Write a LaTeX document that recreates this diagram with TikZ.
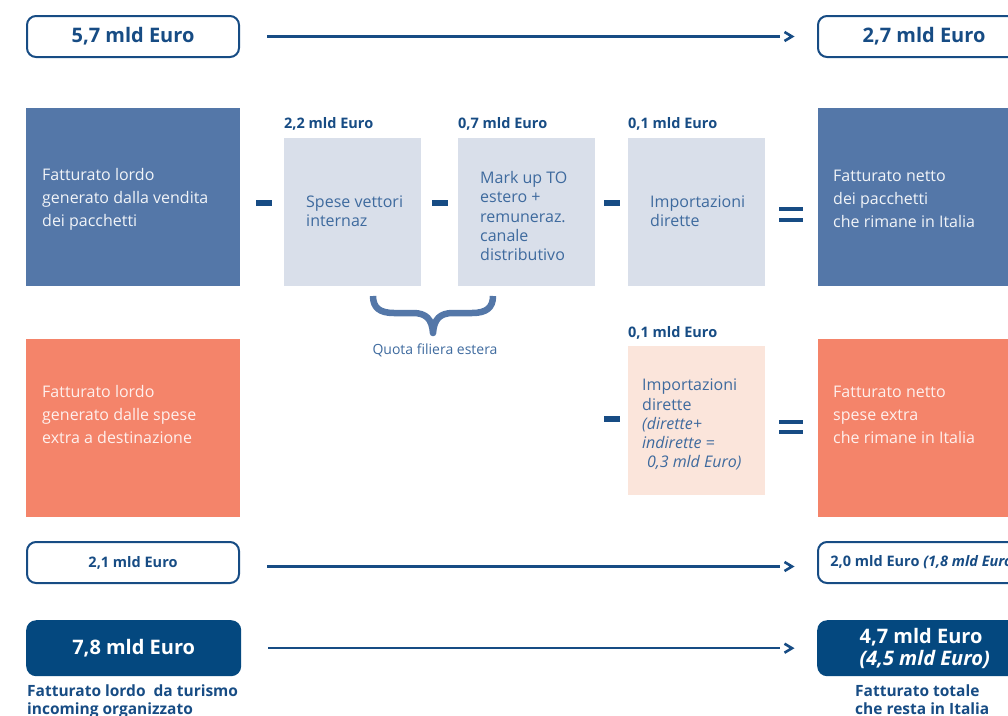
\documentclass[tikz,border=0pt]{standalone}
\usepackage{fontspec}
\setmainfont{Open Sans}
\usepackage{tikz}
\usetikzlibrary{arrows.meta}

\definecolor{blu}{HTML}{174C84}
\definecolor{bluscuro}{HTML}{04487F}
\definecolor{bluette}{HTML}{5477A8}
\definecolor{azzurro}{HTML}{D9DFEA}
\definecolor{testoaz}{HTML}{3E6A9E}
\definecolor{arancio}{HTML}{F4846A}
\definecolor{pesca}{HTML}{FBE5DB}

\begin{document}
\begin{tikzpicture}[x=1pt, y=-1pt,
    cifra/.style={draw=blu, line width=2pt, rounded corners=9pt, minimum width=212pt, minimum height=41pt, inner sep=0pt, text=blu, font=\bfseries\fontsize{20}{24}\selectfont},
    cifrapiena/.style={fill=bluscuro, rounded corners=10pt, minimum width=215pt, minimum height=56pt, inner sep=0pt, text=white, align=left, font=\bfseries\fontsize{20}{22}\selectfont},
    riquadro/.style={inner sep=0pt, minimum width=214pt, minimum height=178pt},
    voce/.style={fill=azzurro, inner sep=0pt, minimum width=137pt, minimum height=148pt},
    testo/.style={inner sep=0pt, align=left, font=\fontsize{16}{23}\selectfont},
    testovoce/.style={inner sep=0pt, align=left, text=testoaz, font=\fontsize{16}{19.3}\selectfont},
    importo/.style={inner sep=0pt, anchor=base west, text=blu, font=\bfseries\fontsize{14.5}{17}\selectfont},
    didascalia/.style={inner sep=0pt, anchor=north west, align=left, text=blu, font=\bfseries\fontsize{15.5}{18}\selectfont},
    nota/.style={inner sep=0pt, text=testoaz, font=\fontsize{14}{17}\selectfont},
    meno/.style={blu, line width=5.5pt},
    uguale/.style={blu, line width=3.6pt},
    graffa/.style={bluette, line width=6.5pt, line join=round},
    freccia/.style={blu, line width=2.3pt, shorten <=27pt, shorten >=37pt},
    punta/.style={blu, line width=2.6pt, miter limit=4}
]

    \useasboundingbox (0,0) rectangle (1008,715);
    \clip (0,0) rectangle (1008,715);

    % importi in alto
    \node[cifra, anchor=north west] (lordo) at (26,15) {5,7 mld Euro};
    \node[cifra, anchor=north west] (netto) at (817,15) {2,7 mld Euro};
    \draw[freccia] (lordo) -- (netto);
    \draw[punta] ([xshift=-32.5pt, yshift=4.5pt]netto.west) -- ([xshift=-25pt]netto.west) -- ([xshift=-32.5pt, yshift=-4.5pt]netto.west);

    % pacchetti
    \node[riquadro, fill=bluette, anchor=north west] (lordopac) at (26,108) {};
    \node[testo, text=white!92!bluette, anchor=west] (tlordopac) at ([xshift=16pt, yshift=-2pt]lordopac.west) {Fatturato lordo\\generato dalla vendita\\dei pacchetti};

    \node[voce, anchor=north west] (vettori) at (284,138) {};
    \node[testovoce, anchor=west] (tvettori) at ([xshift=22pt, yshift=1pt]vettori.west) {Spese vettori\\internaz};
    \node[importo] (ivettori) at ([yshift=10pt]vettori.north west) {2,2 mld Euro};

    \node[voce, anchor=north west] (markup) at (458,138) {};
    \node[testovoce, anchor=west] (tmarkup) at ([xshift=22pt, yshift=-4pt]markup.west) {Mark up TO\\estero +\\remuneraz.\\canale\\distributivo};
    \node[importo] (imarkup) at ([yshift=10pt]markup.north west) {0,7 mld Euro};

    \node[voce, anchor=north west] (imppac) at (628,138) {};
    \node[testovoce, anchor=west] (timppac) at ([xshift=22pt, yshift=1pt]imppac.west) {Importazioni\\dirette};
    \node[importo] (iimppac) at ([yshift=10pt]imppac.north west) {0,1 mld Euro};

    \node[riquadro, fill=bluette, anchor=north west] (nettopac) at (818,108) {};
    \node[testo, text=white!92!bluette, anchor=west] (tnettopac) at ([xshift=15pt, yshift=-2pt]nettopac.west) {Fatturato netto\\dei pacchetti\\che rimane in Italia};

    \draw[meno] (256,203) -- (272,203);
    \draw[meno] (432,203) -- (448,203);
    \draw[meno] (604,203) -- (620,203);
    \draw[uguale] (779,209) -- (803,209);
    \draw[uguale] (779,220) -- (803,220);

    % graffa sotto la filiera estera
    \draw[graffa] (373,296) .. controls (373,308) and (380,313) .. (394,313) -- (413,313)
        .. controls (426,313) and (432,319) .. (433,333)
        .. controls (434,319) and (440,313) .. (453,313) -- (472,313)
        .. controls (486,313) and (493,308) .. (493,296);
    \node[nota] (quota) at (435,350) {Quota filiera estera};

    % spese extra
    \node[riquadro, fill=arancio, anchor=north west] (lordoext) at (26,339) {};
    \node[testo, text=white!88!arancio, anchor=west] (tlordoext) at ([xshift=16pt, yshift=14pt]lordoext.west) {Fatturato lordo\\generato dalle spese\\extra a destinazione};

    \node[voce, fill=pesca, minimum height=149pt, anchor=north west] (impext) at (628,346) {};
    \node[testovoce, anchor=west] (timpext) at ([xshift=14pt, yshift=-4pt]impext.west) {Importazioni\\dirette\\\textit{(dirette+}\\\textit{indirette =}\\\textit{\hspace{0.3em}0,3 mld Euro)}};
    \node[importo] (iimpext) at ([yshift=9pt]impext.north west) {0,1 mld Euro};

    \node[riquadro, fill=arancio, anchor=north west] (nettoext) at (818,339) {};
    \node[testo, text=white!88!arancio, anchor=west] (tnettoext) at ([xshift=15pt, yshift=13pt]nettoext.west) {Fatturato netto\\spese extra\\che rimane in Italia};

    \draw[meno] (604,419) -- (620,419);
    \draw[uguale] (779,422) -- (803,422);
    \draw[uguale] (779,432) -- (803,432);

    \node[cifra, font=\bfseries\fontsize{14.5}{17}\selectfont, anchor=north west] (extralordo) at (26,541) {2,1 mld Euro};
    \node[cifra, font=\bfseries\fontsize{14.5}{17}\selectfont, anchor=north west] (extranetto) at (817,541) {2,0 mld Euro \textit{(1,8 mld Euro)}};
    \draw[freccia] ([yshift=-4pt]extralordo.east) -- ([yshift=-4pt]extranetto.west);
    \draw[punta] ([xshift=-32.5pt, yshift=0.5pt]extranetto.west) -- ([xshift=-25pt, yshift=-4pt]extranetto.west) -- ([xshift=-32.5pt, yshift=-8.5pt]extranetto.west);

    % totali
    \node[cifrapiena, anchor=north west] (totlordo) at (26,620) {7,8 mld Euro};
    \node[cifrapiena, anchor=north west] (totnetto) at (817,620) {4,7 mld Euro\\\textit{(4,5 mld Euro)}};
    \draw[freccia] (totlordo) -- (totnetto);
    \draw[punta] ([xshift=-32.5pt, yshift=4.5pt]totnetto.west) -- ([xshift=-25pt]totnetto.west) -- ([xshift=-32.5pt, yshift=-4.5pt]totnetto.west);

    \node[didascalia] (caplordo) at (27,685) {Fatturato lordo~ da turismo\\incoming organizzato};
    \node[didascalia] (capnetto) at (855,685) {Fatturato totale\\che resta in Italia};

\end{tikzpicture}
\end{document}
